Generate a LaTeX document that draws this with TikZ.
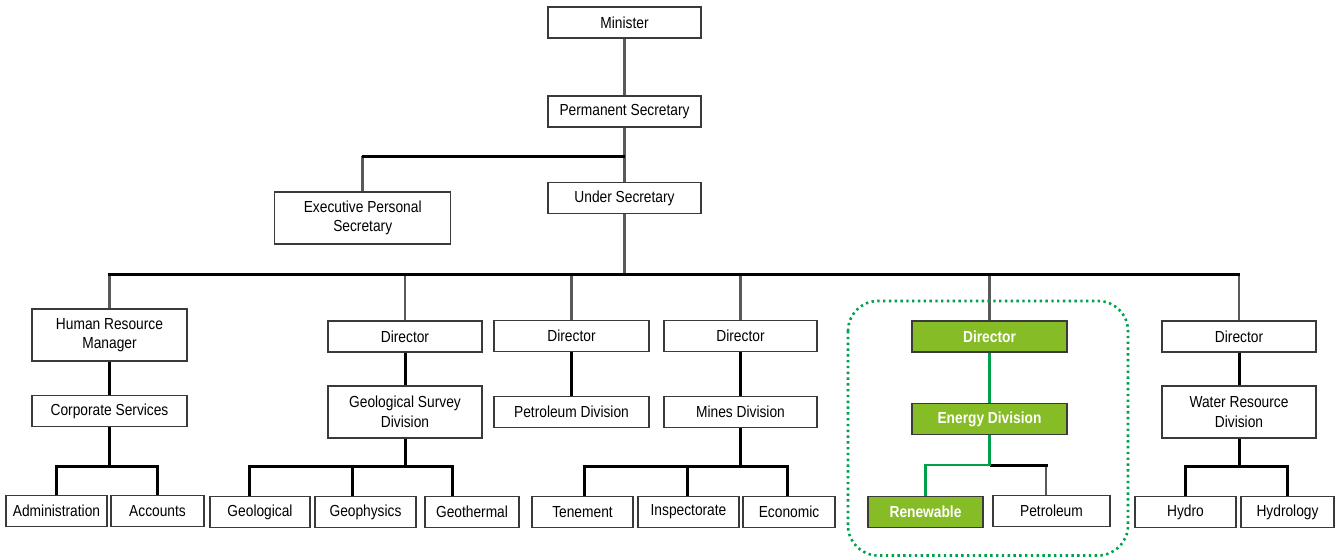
\documentclass[tikz,border=0pt]{standalone}
\usepackage{fontspec}
\setmainfont{Liberation Sans}[FakeStretch=0.86]
\definecolor{boxc}{HTML}{3A3A3A}
\definecolor{lgray}{HTML}{595959}
\definecolor{grfill}{HTML}{86BC25}
\definecolor{grline}{HTML}{00A14B}
\begin{document}
\begin{tikzpicture}[x=1pt,y=-1pt,
  box/.style={draw=boxc, line width=1.1pt, fill=white, minimum height=31pt, inner sep=0pt,
    font=\fontsize{16}{19.5}\selectfont, align=center},
  tall/.style={minimum height=52pt},
  gbox/.style={box, fill=grfill, text=white, font=\fontsize{16}{19.5}\selectfont\bfseries},
  gl/.style={draw=lgray, line width=2.5pt},
  bl/.style={draw=black, line width=3pt},
  grl/.style={draw=grline, line width=2.4pt},
  frame/.style={draw=grline, line width=2.6pt, dash pattern=on 2.4pt off 3.4pt, rounded corners=30pt}]
\useasboundingbox (0,0) rectangle (1341,557);
% levels
\coordinate (y1) at (0,156);
\coordinate (ym) at (0,274);
\coordinate (yb) at (0,466);
% nodes
\node[box, minimum width=153pt] (min) at (624.5,22.5) {Minister};
\node[box, minimum width=153pt] (perm) at (624.5,111.5) {Permanent Secretary};
\node[box, minimum width=153pt] (under) at (624.5,198) {Under Secretary};
\node[box, tall, minimum width=176pt] (eps) at (362.7,218) {Executive Personal\\Secretary};
\node[box, tall, minimum width=155pt] (hr) at (109.5,335) {Human Resource\\Manager};
\node[box, minimum width=155pt] (corp) at (109.5,411) {Corporate Services};
\node[box, minimum width=101pt] (adm) at (56.5,511) {Administration};
\node[box, minimum width=93pt] (acc) at (157.5,511) {Accounts};
\node[box, minimum width=154pt] (dgeo) at (405,336.5) {Director};
\node[box, tall, minimum width=154pt] (gsd) at (405,412) {Geological Survey\\Division};
\node[box, minimum width=100pt] (geol) at (260,512) {Geological};
\node[box, minimum width=101pt] (geoph) at (365.5,512) {Geophysics};
\node[box, minimum width=94pt] (geoth) at (472,512) {Geothermal};
\node[box, minimum width=155pt] (dpet) at (571.5,336) {Director};
\node[box, minimum width=155pt] (petdiv) at (571.5,412) {Petroleum Division};
\node[box, minimum width=153pt] (dmin) at (740.5,336) {Director};
\node[box, minimum width=153pt] (mindiv) at (740.5,412) {Mines Division};
\node[box, minimum width=101pt] (ten) at (582.5,512) {Tenement};
\node[box, minimum width=101pt] (insp) at (688.5,512) {Inspectorate};
\node[box, minimum width=92pt] (eco) at (789,512) {Economic};
\node[gbox, minimum width=155pt] (den) at (989.5,336.5) {Director};
\node[gbox, minimum width=155pt] (ediv) at (989.5,419) {Energy Division};
\node[gbox, minimum width=115pt] (ren) at (925.5,512) {Renewable};
\node[box, minimum width=117pt] (petro) at (1051.5,511) {Petroleum};
\node[box, minimum width=154pt] (dwat) at (1239,336.5) {Director};
\node[box, tall, minimum width=154pt] (wrd) at (1239,412) {Water Resource\\Division};
\node[box, minimum width=101pt] (hydro) at (1185.5,512) {Hydro};
\node[box, minimum width=93pt] (hydrol) at (1287.5,512) {Hydrology};
% top connectors
\draw[gl] (min) -- (perm);
\draw[gl] (perm) -- (under);
\draw[gl] (eps.north |- y1) -- (eps.north);
\draw[bl] ([xshift=-1.2pt]eps.north |- y1) -- (perm.south |- y1);
\draw[gl] (under) -- (under.south |- ym);
\foreach \n in {hr,dgeo,dpet,dmin,den,dwat}
  \draw[gl] (\n.north |- ym) -- (\n.north);
\draw[bl] ([xshift=-1.2pt]hr.north |- ym) -- ([xshift=1.2pt]dwat.north |- ym);
% HR branch
\draw[bl] (hr) -- (corp);
\draw[bl] (corp) -- (corp.south |- yb);
\draw[bl] (adm.north |- yb) -- (adm.north);
\draw[bl] (acc.north |- yb) -- (acc.north);
\draw[bl] ([xshift=-1.5pt]adm.north |- yb) -- ([xshift=1.5pt]acc.north |- yb);
% Geology branch
\draw[bl] (dgeo) -- (gsd);
\draw[bl] (gsd) -- (gsd.south |- yb);
\draw[bl] ([xshift=-11pt]geol.north |- yb) -- ([xshift=-11pt]geol.north);
\draw[bl] ([xshift=-13.5pt]geoph.north |- yb) -- ([xshift=-13.5pt]geoph.north);
\draw[bl] ([xshift=-20pt]geoth.north |- yb) -- ([xshift=-20pt]geoth.north);
\draw[bl] ([xshift=-12.5pt]geol.north |- yb) -- ([xshift=-18.5pt]geoth.north |- yb);
% Petroleum
\draw[bl] (dpet) -- (petdiv);
% Mines branch
\draw[bl] (dmin) -- (mindiv);
\draw[bl] (mindiv) -- (mindiv.south |- yb);
\draw[bl] ([xshift=1.5pt]ten.north |- yb) -- ([xshift=1.5pt]ten.north);
\draw[bl] ([xshift=-1.5pt]insp.north |- yb) -- ([xshift=-1.5pt]insp.north);
\draw[bl] ([xshift=-2pt]eco.north |- yb) -- ([xshift=-2pt]eco.north);
\draw[bl] (ten.north |- yb) -- ([xshift=-0.5pt]eco.north |- yb);
% Energy branch
\coordinate (ye) at (0,465);
\draw[gl] ([xshift=-5.5pt]petro.north |- ye) -- ([xshift=-5.5pt]petro.north);
\draw[bl] (ediv.south |- ye) -- ([xshift=-4pt]petro.north |- ye);
\draw[grl] (den) -- (ediv);
\draw[grl] (ediv.south) -- (ediv.south |- ye) -| (ren.north);
% Water branch
\draw[bl] (dwat) -- (wrd);
\draw[bl] (wrd) -- (wrd.south |- yb);
\draw[bl] (hydro.north |- yb) -- (hydro.north);
\draw[bl] (hydrol.north |- yb) -- (hydrol.north);
\draw[bl] ([xshift=-1.5pt]hydro.north |- yb) -- ([xshift=1.5pt]hydrol.north |- yb);
% highlight frame
\draw[frame] (848,301) rectangle (1128,555.5);
\end{tikzpicture}
\end{document}
